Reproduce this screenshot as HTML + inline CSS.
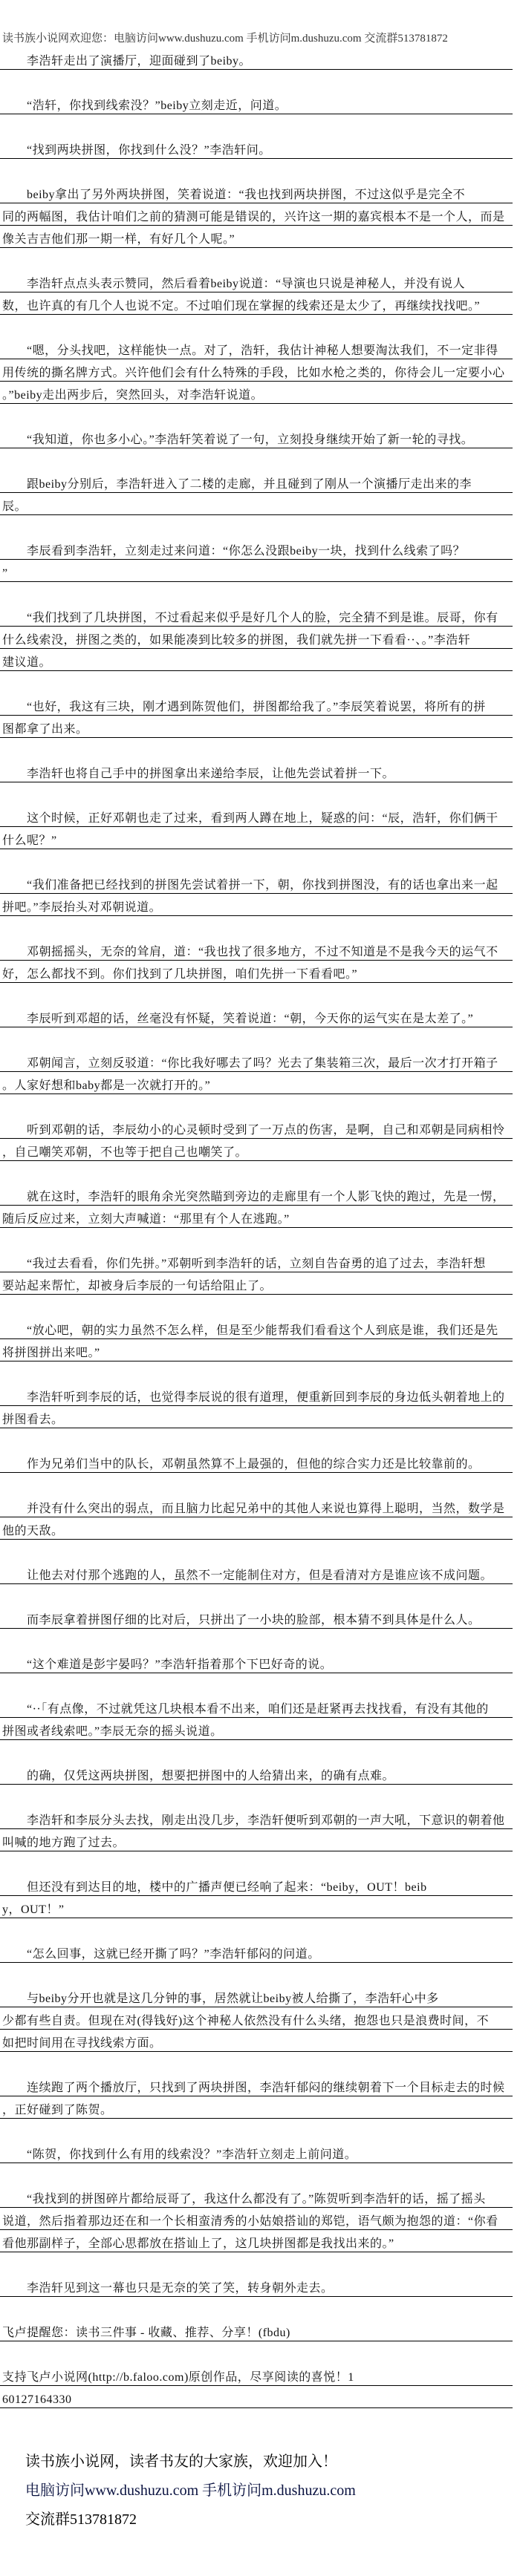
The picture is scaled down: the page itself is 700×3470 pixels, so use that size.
<!DOCTYPE html>
<html><head><meta charset="utf-8">
<style>
html,body{margin:0;padding:0;background:#fff;}
body{width:700px;height:3470px;position:relative;overflow:hidden;}
#hdr{position:absolute;top:44px;left:3px;font:15px/16px "Liberation Serif","Noto Serif CJK SC",serif;color:#333;white-space:nowrap;}
#main{position:absolute;top:64px;left:0;width:690px;font-family:"Liberation Serif","Noto Serif CJK SC",serif;font-size:16px;letter-spacing:0.5px;color:#111;}
.p{margin-bottom:30px;}
.l{height:30px;box-sizing:border-box;border-bottom:1px solid #000;padding:9px 0 0 3px;line-height:20px;white-space:nowrap;overflow:visible;}
.i{padding-left:36px;}
#ft{position:absolute;top:3297px;left:34px;font-family:"Liberation Serif","Noto Serif CJK SC",serif;font-size:20px;line-height:39px;color:#000;white-space:nowrap;}
</style></head><body>
<div id="hdr">读书族小说网欢迎您：电脑访问www.dushuzu.com 手机访问m.dushuzu.com 交流群513781872</div>
<div id="main">
<div class="p"><div class="l i">李浩轩走出了演播厅，迎面碰到了beiby。</div></div>
<div class="p"><div class="l i">“浩轩，你找到线索没？”beiby立刻走近，问道。</div></div>
<div class="p"><div class="l i">“找到两块拼图，你找到什么没？”李浩轩问。</div></div>
<div class="p"><div class="l i">beiby拿出了另外两块拼图，笑着说道：“我也找到两块拼图，不过这似乎是完全不</div><div class="l">同的两幅图，我估计咱们之前的猜测可能是错误的，兴许这一期的嘉宾根本不是一个人，而是</div><div class="l">像关吉吉他们那一期一样，有好几个人呢。”</div></div>
<div class="p"><div class="l i">李浩轩点点头表示赞同，然后看着beiby说道：“导演也只说是神秘人，并没有说人</div><div class="l">数，也许真的有几个人也说不定。不过咱们现在掌握的线索还是太少了，再继续找找吧。”</div></div>
<div class="p"><div class="l i">“嗯，分头找吧，这样能快一点。对了，浩轩，我估计神秘人想要淘汰我们，不一定非得</div><div class="l">用传统的撕名牌方式。兴许他们会有什么特殊的手段，比如水枪之类的，你待会儿一定要小心</div><div class="l">。”beiby走出两步后，突然回头，对李浩轩说道。</div></div>
<div class="p"><div class="l i">“我知道，你也多小心。”李浩轩笑着说了一句，立刻投身继续开始了新一轮的寻找。</div></div>
<div class="p"><div class="l i">跟beiby分别后，李浩轩进入了二楼的走廊，并且碰到了刚从一个演播厅走出来的李</div><div class="l">辰。</div></div>
<div class="p"><div class="l i">李辰看到李浩轩，立刻走过来问道：“你怎么没跟beiby一块，找到什么线索了吗？</div><div class="l">”</div></div>
<div class="p"><div class="l i">“我们找到了几块拼图，不过看起来似乎是好几个人的脸，完全猜不到是谁。辰哥，你有</div><div class="l">什么线索没，拼图之类的，如果能凑到比较多的拼图，我们就先拼一下看看··、。”李浩轩</div><div class="l">建议道。</div></div>
<div class="p"><div class="l i">“也好，我这有三块，刚才遇到陈贺他们，拼图都给我了。”李辰笑着说罢，将所有的拼</div><div class="l">图都拿了出来。</div></div>
<div class="p"><div class="l i">李浩轩也将自己手中的拼图拿出来递给李辰，让他先尝试着拼一下。</div></div>
<div class="p"><div class="l i">这个时候，正好邓朝也走了过来，看到两人蹲在地上，疑惑的问：“辰，浩轩，你们俩干</div><div class="l">什么呢？”</div></div>
<div class="p"><div class="l i">“我们准备把已经找到的拼图先尝试着拼一下，朝，你找到拼图没，有的话也拿出来一起</div><div class="l">拼吧。”李辰抬头对邓朝说道。</div></div>
<div class="p"><div class="l i">邓朝摇摇头，无奈的耸肩，道：“我也找了很多地方，不过不知道是不是我今天的运气不</div><div class="l">好，怎么都找不到。你们找到了几块拼图，咱们先拼一下看看吧。”</div></div>
<div class="p"><div class="l i">李辰听到邓超的话，丝毫没有怀疑，笑着说道：“朝，今天你的运气实在是太差了。”</div></div>
<div class="p"><div class="l i">邓朝闻言，立刻反驳道：“你比我好哪去了吗？光去了集装箱三次，最后一次才打开箱子</div><div class="l">。人家好想和baby都是一次就打开的。”</div></div>
<div class="p"><div class="l i">听到邓朝的话，李辰幼小的心灵顿时受到了一万点的伤害，是啊，自己和邓朝是同病相怜</div><div class="l">，自己嘲笑邓朝，不也等于把自己也嘲笑了。</div></div>
<div class="p"><div class="l i">就在这时，李浩轩的眼角余光突然瞄到旁边的走廊里有一个人影飞快的跑过，先是一愣，</div><div class="l">随后反应过来，立刻大声喊道：“那里有个人在逃跑。”</div></div>
<div class="p"><div class="l i">“我过去看看，你们先拼。”邓朝听到李浩轩的话，立刻自告奋勇的追了过去，李浩轩想</div><div class="l">要站起来帮忙，却被身后李辰的一句话给阻止了。</div></div>
<div class="p"><div class="l i">“放心吧，朝的实力虽然不怎么样，但是至少能帮我们看看这个人到底是谁，我们还是先</div><div class="l">将拼图拼出来吧。”</div></div>
<div class="p"><div class="l i">李浩轩听到李辰的话，也觉得李辰说的很有道理，便重新回到李辰的身边低头朝着地上的</div><div class="l">拼图看去。</div></div>
<div class="p"><div class="l i">作为兄弟们当中的队长，邓朝虽然算不上最强的，但他的综合实力还是比较靠前的。</div></div>
<div class="p"><div class="l i">并没有什么突出的弱点，而且脑力比起兄弟中的其他人来说也算得上聪明，当然，数学是</div><div class="l">他的天敌。</div></div>
<div class="p"><div class="l i">让他去对付那个逃跑的人，虽然不一定能制住对方，但是看清对方是谁应该不成问题。</div></div>
<div class="p"><div class="l i">而李辰拿着拼图仔细的比对后，只拼出了一小块的脸部，根本猜不到具体是什么人。</div></div>
<div class="p"><div class="l i">“这个难道是彭宇晏吗？”李浩轩指着那个下巴好奇的说。</div></div>
<div class="p"><div class="l i">“··「有点像，不过就凭这几块根本看不出来，咱们还是赶紧再去找找看，有没有其他的</div><div class="l">拼图或者线索吧。”李辰无奈的摇头说道。</div></div>
<div class="p"><div class="l i">的确，仅凭这两块拼图，想要把拼图中的人给猜出来，的确有点难。</div></div>
<div class="p"><div class="l i">李浩轩和李辰分头去找，刚走出没几步，李浩轩便听到邓朝的一声大吼，下意识的朝着他</div><div class="l">叫喊的地方跑了过去。</div></div>
<div class="p"><div class="l i">但还没有到达目的地，楼中的广播声便已经响了起来：“beiby，OUT！beib</div><div class="l">y，OUT！”</div></div>
<div class="p"><div class="l i">“怎么回事，这就已经开撕了吗？”李浩轩郁闷的问道。</div></div>
<div class="p"><div class="l i">与beiby分开也就是这几分钟的事，居然就让beiby被人给撕了，李浩轩心中多</div><div class="l">少都有些自责。但现在对(得钱好)这个神秘人依然没有什么头绪，抱怨也只是浪费时间，不</div><div class="l">如把时间用在寻找线索方面。</div></div>
<div class="p"><div class="l i">连续跑了两个播放厅，只找到了两块拼图，李浩轩郁闷的继续朝着下一个目标走去的时候</div><div class="l">，正好碰到了陈贺。</div></div>
<div class="p"><div class="l i">“陈贺，你找到什么有用的线索没？”李浩轩立刻走上前问道。</div></div>
<div class="p"><div class="l i">“我找到的拼图碎片都给辰哥了，我这什么都没有了。”陈贺听到李浩轩的话，摇了摇头</div><div class="l">说道，然后指着那边还在和一个长相蛮清秀的小姑娘搭讪的郑铠，语气颇为抱怨的道：“你看</div><div class="l">看他那副样子，全部心思都放在搭讪上了，这几块拼图都是我找出来的。”</div></div>
<div class="p"><div class="l i">李浩轩见到这一幕也只是无奈的笑了笑，转身朝外走去。</div></div>
<div class="p"><div class="l">飞卢提醒您：读书三件事 - 收藏、推荐、分享！(fbdu)</div></div>
<div class="p"><div class="l">支持飞卢小说网(http://b.faloo.com)原创作品，尽享阅读的喜悦！1</div><div class="l">60127164330</div></div>
</div>
<div id="ft">读书族小说网，读者书友的大家族，欢迎加入！<br><span style="color:#0a1240">电脑访问www.dushuzu.com 手机访问m.dushuzu.com</span><br>交流群513781872</div>
</body></html>
